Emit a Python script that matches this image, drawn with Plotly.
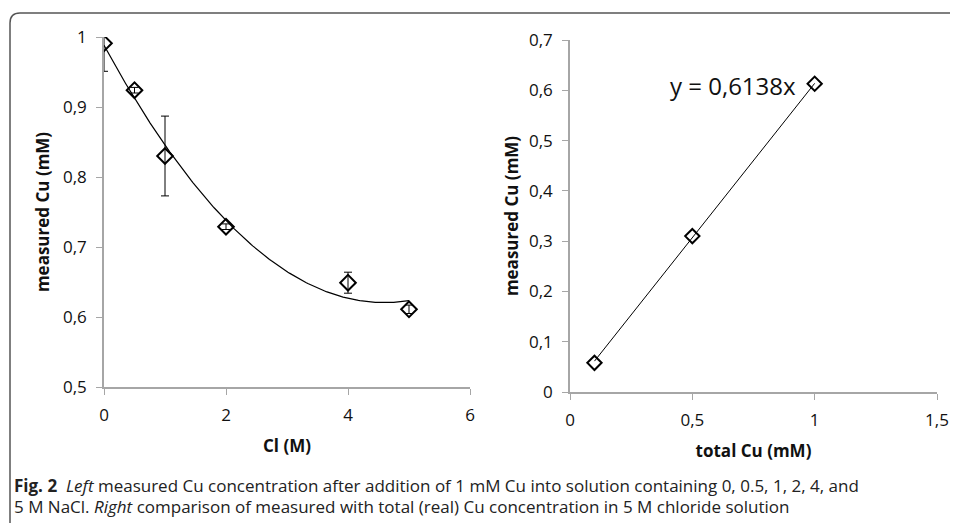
import numpy as np
import plotly.graph_objects as go

# ---- data ----
cl_conc = [0, 0.5, 1, 2, 4, 5]
cu_measured_left = [0.991, 0.924, 0.830, 0.729, 0.649, 0.611]
cu_err_left = [0.04, 0.004, 0.057, 0.004, 0.015, 0.006]

total_cu = [0.1, 0.5, 1.0]
cu_measured_right = [0.058, 0.310, 0.613]
slope_right = 0.6138

left_xticks = [0, 2, 4, 6]
left_xlabels = ["0", "2", "4", "6"]
left_yticks = [0.5, 0.6, 0.7, 0.8, 0.9, 1.0]
left_ylabels = ["0,5", "0,6", "0,7", "0,8", "0,9", "1"]
right_xticks = [0, 0.5, 1.0, 1.5]
right_xlabels = ["0", "0,5", "1", "1,5"]
right_yticks = [0, 0.1, 0.2, 0.3, 0.4, 0.5, 0.6, 0.7]
right_ylabels = ["0", "0,1", "0,2", "0,3", "0,4", "0,5", "0,6", "0,7"]

# page has an 8px body margin; figure is shifted by it
OFF = 8
W, H = 958 - OFF, 523 - OFF

def px(x):
    return (x - OFF) / W

def py(y):
    return 1 - (y - OFF) / H

# polynomial trendline (order 2) fitted to left data
coef = np.polyfit(cl_conc, cu_measured_left, 2)
xfit = np.linspace(min(cl_conc), max(cl_conc), 200)
yfit = np.polyval(coef, xfit)

xr = np.array([min(total_cu), max(total_cu)])
yr = slope_right * xr

fig = go.Figure()

fig.add_trace(go.Scatter(x=xfit, y=yfit, mode="lines",
                         line=dict(color="black", width=1.2),
                         xaxis="x", yaxis="y", showlegend=False, hoverinfo="skip"))
fig.add_trace(go.Scatter(x=cl_conc, y=cu_measured_left, mode="markers",
                         marker=dict(symbol="diamond-open", size=12, color="black",
                                     line=dict(width=2, color="black")),
                         error_y=dict(type="data", array=cu_err_left, color="black",
                                      thickness=1, width=4),
                         xaxis="x", yaxis="y", showlegend=False))

fig.add_trace(go.Scatter(x=xr, y=yr, mode="lines",
                         line=dict(color="black", width=1),
                         xaxis="x2", yaxis="y2", showlegend=False, hoverinfo="skip"))
fig.add_trace(go.Scatter(x=total_cu, y=cu_measured_right, mode="markers",
                         marker=dict(symbol="diamond-open", size=11, color="black",
                                     line=dict(width=2, color="black")),
                         xaxis="x2", yaxis="y2", showlegend=False))

FONT = "Open Sans, Lato, sans-serif"
tickfont = dict(family=FONT, size=17, color="#111")
titlefont = dict(family=FONT, size=17, color="#111")
axcommon = dict(showgrid=False, zeroline=False, showline=True, linecolor="#a6a6a6",
                linewidth=1.5, ticks="outside", tickcolor="#a6a6a6", ticklen=6,
                tickwidth=1, tickfont=tickfont, automargin=False)

fig.update_layout(
    width=W, height=H, autosize=False,
    margin=dict(l=0, r=0, t=0, b=0, pad=0),
    paper_bgcolor="white", plot_bgcolor="white",
    showlegend=False,
    xaxis=dict(domain=[px(104), px(470)], range=[0, 6], anchor="y",
               tickvals=left_xticks, ticktext=left_xlabels, ticklabelstandoff=6,
               title=dict(text="<b>Cl (M)</b>", font=titlefont, standoff=15), **axcommon),
    yaxis=dict(domain=[py(387), py(37)], range=[0.5, 1.0], anchor="x",
               tickvals=left_yticks, ticktext=left_ylabels, ticklabelstandoff=6,
               title=dict(text="<b>measured Cu (mM)</b>", font=titlefont, standoff=9), **axcommon),
    xaxis2=dict(domain=[px(570), px(937)], range=[0, 1.5], anchor="y2",
                tickvals=right_xticks, ticktext=right_xlabels, ticklabelstandoff=6,
                title=dict(text="<b>total Cu (mM)</b>", font=titlefont, standoff=15), **axcommon),
    yaxis2=dict(domain=[py(392), py(40)], range=[0, 0.7], anchor="x2",
                tickvals=right_yticks, ticktext=right_ylabels, ticklabelstandoff=6,
                title=dict(text="<b>measured Cu (mM)</b>", font=titlefont, standoff=6), **axcommon),
)

ann = []
ann.append(dict(text="y = 0,6138x", x=px(733), y=py(86), xref="paper", yref="paper",
                showarrow=False, font=dict(family=FONT, size=24, color="#111"),
                xanchor="center", yanchor="middle"))

capfont = dict(family="Open Sans, Noto Sans, sans-serif", size=17, color="#222")
ann.append(dict(text="<b>Fig. 2</b>  <i>Left</i> measured Cu concentration after addition of 1 mM Cu into solution containing 0, 0.5, 1, 2, 4, and",
                x=px(12), y=py(485), xref="paper", yref="paper", showarrow=False,
                font=capfont, xanchor="left", yanchor="middle"))
ann.append(dict(text="5 M NaCl. <i>Right</i> comparison of measured with total (real) Cu concentration in 5 M chloride solution",
                x=px(12), y=py(506), xref="paper", yref="paper", showarrow=False,
                font=capfont, xanchor="left", yanchor="middle"))
fig.update_layout(annotations=ann)

# rounded frame (top-left corner)
r = 10
path = (f"M {px(10)},{py(523)} L {px(10)},{py(13 + r)} "
        f"Q {px(10)},{py(13)} {px(10 + r)},{py(13)} L {px(958)},{py(13)}")
fig.add_shape(type="path", path=path, xref="paper", yref="paper",
              line=dict(color="#555", width=1.5))

fig.write_html("out.html")
